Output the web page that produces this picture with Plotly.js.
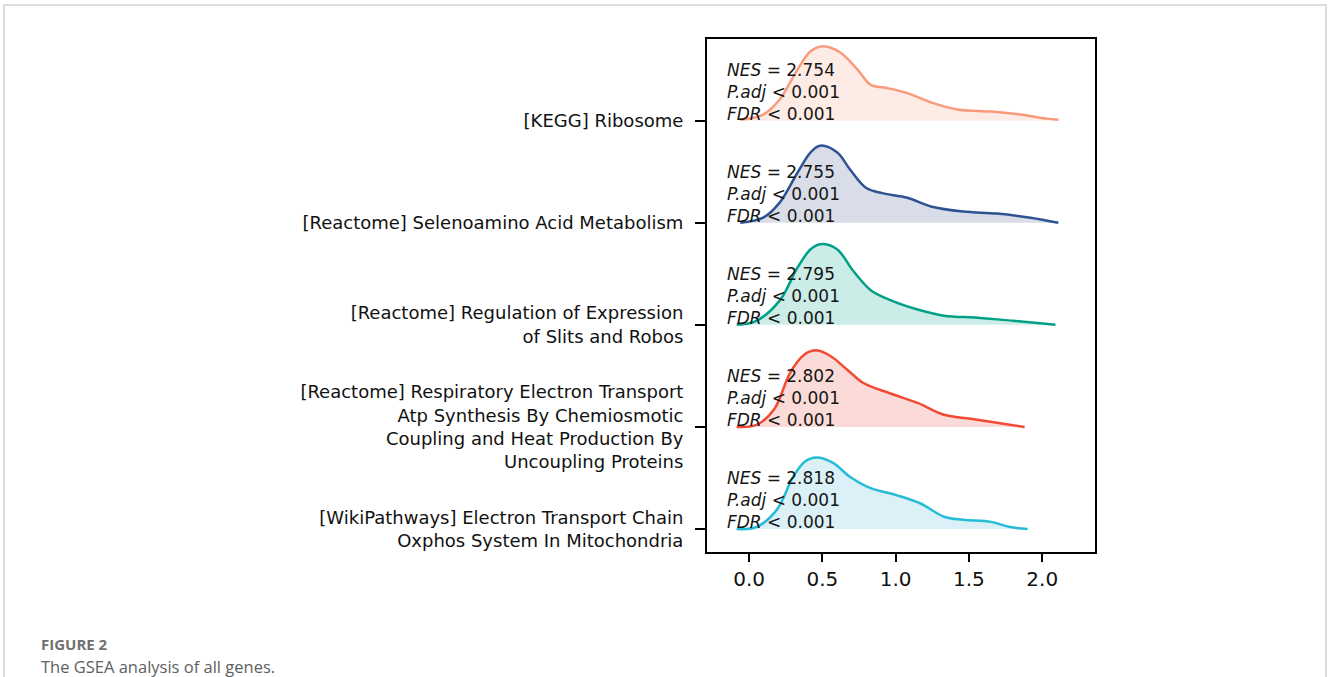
<!DOCTYPE html>
<html>
<head>
<meta charset="utf-8">
<script src="https://cdn.plot.ly/plotly-3.0.1.min.js"></script>
<style>html,body{margin:0;padding:0;background:#fff;}#chart{width:1328px;height:677px;}</style>
</head>
<body>
<div id="chart"></div>
<script>
// Pathways, bottom to top
const pathways = [
  "[WikiPathways] Electron Transport Chain<br>Oxphos System In Mitochondria",
  "[Reactome] Respiratory Electron Transport<br>Atp Synthesis By Chemiosmotic<br>Coupling and Heat Production By<br>Uncoupling Proteins",
  "[Reactome] Regulation of Expression<br>of Slits and Robos",
  "[Reactome] Selenoamino Acid Metabolism",
  "[KEGG] Ribosome"
];
const nesValues = ["2.818", "2.802", "2.795", "2.755", "2.754"];
const padjText = ["< 0.001", "< 0.001", "< 0.001", "< 0.001", "< 0.001"];
const fdrText = ["< 0.001", "< 0.001", "< 0.001", "< 0.001", "< 0.001"];

// Density curves (x = value, h = density height in ridge units)
const wikiX = [-0.085, 0.05, 0.19, 0.30, 0.38, 0.46, 0.57, 0.69, 0.83, 1.01, 1.17, 1.33, 1.46, 1.65, 1.78, 1.90];
const wikiH = [0.0, 0.02, 0.19, 0.51, 0.66, 0.70, 0.65, 0.51, 0.40, 0.33, 0.25, 0.12, 0.09, 0.07, 0.02, 0.0];
const respX = [-0.085, 0.05, 0.17, 0.28, 0.37, 0.45, 0.55, 0.67, 0.78, 0.96, 1.15, 1.33, 1.51, 1.69, 1.88];
const respH = [0.0, 0.02, 0.17, 0.53, 0.70, 0.75, 0.70, 0.56, 0.43, 0.33, 0.235, 0.12, 0.08, 0.04, 0.0];
const slitX = [-0.085, 0.05, 0.21, 0.33, 0.42, 0.485, 0.60, 0.71, 0.83, 0.96, 1.15, 1.33, 1.56, 1.80, 2.09];
const slitH = [0.0, 0.04, 0.24, 0.56, 0.74, 0.79, 0.74, 0.53, 0.34, 0.245, 0.15, 0.09, 0.07, 0.04, 0.0];
const selX = [-0.06, 0.096, 0.21, 0.33, 0.42, 0.485, 0.60, 0.69, 0.80, 0.91, 1.08, 1.24, 1.46, 1.69, 1.92, 2.11];
const selH = [0.0, 0.05, 0.20, 0.49, 0.69, 0.755, 0.69, 0.52, 0.34, 0.29, 0.245, 0.16, 0.11, 0.09, 0.05, 0.0];
const riboX = [-0.06, 0.096, 0.21, 0.33, 0.42, 0.505, 0.62, 0.74, 0.83, 0.94, 1.08, 1.24, 1.42, 1.65, 1.85, 2.03, 2.11];
const riboH = [0.01, 0.06, 0.21, 0.50, 0.68, 0.73, 0.67, 0.50, 0.35, 0.32, 0.27, 0.18, 0.11, 0.09, 0.06, 0.02, 0.01];

const curveX = [wikiX, respX, slitX, selX, riboX];
const curveH = [wikiH, respH, slitH, selH, riboH];
const lineColors = ["#27BCD6", "#F24A34", "#00A087", "#2F5294", "#FA9A7C"];
const fillColors = ["rgba(77,187,213,0.2)", "rgba(230,75,53,0.2)", "rgba(0,160,135,0.2)", "rgba(60,84,136,0.2)", "rgba(243,155,127,0.2)"];

const xTicks = [0, 0.5, 1.0, 1.5, 2.0];

const W = 1328, H = 677, ml = 707, mr = 233, mt = 39, mb = 125;
const pw = W - ml - mr, ph = H - mt - mb;
const px2x = px => (px - ml) / pw;
const py2y = py => (H - mb - py) / ph;

const traces = [];
const annotations = [];
for (let k = 0; k < pathways.length; k++) {
  const xs = curveX[k], hs = curveH[k];
  traces.push({
    x: [xs[0], xs[xs.length - 1]], y: [k, k], mode: 'lines',
    line: {width: 0, color: 'rgba(0,0,0,0)'}, hoverinfo: 'skip', showlegend: false
  });
  traces.push({
    x: xs, y: hs.map(h => k + h), mode: 'lines', fill: 'tonexty',
    fillcolor: fillColors[k],
    line: {color: lineColors[k], width: 2.5, shape: 'spline', smoothing: 1},
    showlegend: false, name: pathways[k]
  });
  const txt = "<i>NES</i> = " + nesValues[k] +
    "<br><i>P.adj</i> " + padjText[k].replace('<', '&lt;') +
    "<br><i>FDR</i> " + fdrText[k].replace('<', '&lt;');
  annotations.push({
    x: -0.164, y: k + 0.284, xref: 'x', yref: 'y', xanchor: 'left', yanchor: 'middle',
    align: 'left', text: txt, showarrow: false,
    font: {family: 'DejaVu Sans', size: 17, color: '#151515'}
  });
}

annotations.push({
  xref: 'paper', yref: 'paper', x: px2x(39), y: py2y(644), xanchor: 'left', yanchor: 'middle',
  text: '<b>FIGURE 2</b>', showarrow: false,
  font: {family: 'Open Sans', size: 15, color: '#707070'}
});
annotations.push({
  xref: 'paper', yref: 'paper', x: px2x(39), y: py2y(666), xanchor: 'left', yanchor: 'middle',
  text: 'The GSEA analysis of all genes.', showarrow: false,
  font: {family: 'Open Sans', size: 16.5, color: '#606060'}
});

const layout = {
  width: W, height: H,
  margin: {l: ml, r: mr, t: mt, b: mb, pad: 0},
  paper_bgcolor: '#ffffff', plot_bgcolor: '#ffffff',
  showlegend: false,
  xaxis: {
    range: [-0.287, 2.36], tickvals: xTicks, tickformat: '.1f',
    ticks: 'outside', ticklen: 8, tickwidth: 2, tickcolor: '#000',
    showline: true, linecolor: '#000', linewidth: 2, mirror: true,
    showgrid: false, zeroline: false, ticklabelstandoff: 0,
    tickfont: {family: 'DejaVu Sans', size: 20, color: '#111'}
  },
  yaxis: {
    range: [-0.225, 4.8], tickvals: [0, 1, 2, 3, 4], ticktext: pathways,
    ticks: 'outside', ticklen: 10, tickwidth: 2, tickcolor: '#000',
    showline: true, linecolor: '#000', linewidth: 2, mirror: true,
    showgrid: false, zeroline: false, ticklabelstandoff: 8,
    tickfont: {family: 'DejaVu Sans', size: 18, color: '#111'}
  },
  annotations: annotations,
  shapes: [{
    type: 'rect', xref: 'paper', yref: 'paper', layer: 'below',
    x0: px2x(4), x1: px2x(1326), y0: py2y(720), y1: py2y(5),
    line: {color: '#d2d2d2', width: 1.5}, fillcolor: 'rgba(0,0,0,0)'
  }]
};

Plotly.newPlot('chart', traces, layout, {displayModeBar: false, staticPlot: true});
</script>
</body>
</html>
